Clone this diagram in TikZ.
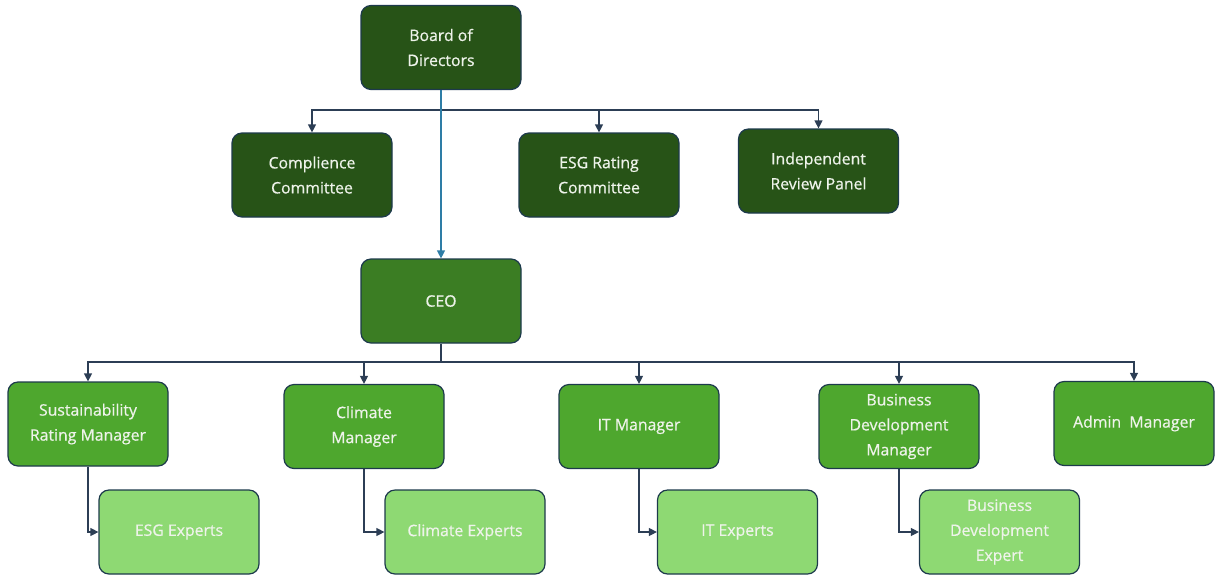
\documentclass[tikz,border=0pt]{standalone}
\usepackage{fontspec}
\setmainfont{Open Sans}
\newfontfamily\boxfont[FakeBold=0.6]{Open Sans}
\usepackage{tikz}
\usetikzlibrary{arrows.meta}

\definecolor{boardgreen}{HTML}{275317}
\definecolor{ceogreen}{HTML}{3B7D23}
\definecolor{mgrgreen}{HTML}{4EA72E}
\definecolor{expgreen}{HTML}{8ED973}
\definecolor{edgeblue}{HTML}{1D3A4C}
\definecolor{linkgray}{HTML}{2C3E55}
\definecolor{ceoblue}{HTML}{2E7DA6}
\definecolor{labelwhite}{HTML}{EEF3EA}

\begin{document}
\begin{tikzpicture}[x=1pt, y=-1pt,
    orgbox/.style={draw=edgeblue, line width=1.2pt, rounded corners=10pt,
        minimum width=160pt, minimum height=84pt, align=center,
        text=labelwhite, font=\boxfont\fontsize{15.8}{25}\selectfont},
    board/.style={orgbox, fill=boardgreen},
    ceo/.style={orgbox, fill=ceogreen},
    mgr/.style={orgbox, fill=mgrgreen},
    expert/.style={orgbox, fill=expgreen},
    link/.style={draw=linkgray, line width=1.2pt,
        -{Triangle[width=8pt,length=8pt]}},
    ]
			\useasboundingbox (0,0) rectangle (1217,579);

			% top level
			\node[board] (brd) at (441,47.5) {Board of\\Directors};
			\node[board] (comp) at (312,175) {Complience\\Committee};
			\node[board] (esgrc) at (599,175) {ESG Rating\\Committee};
			\node[board] (irp) at (818.5,171) {Independent\\Review Panel};
			\node[ceo] (ceo) at (441,301) {CEO};

			% managers
			\node[mgr] (srm) at (88,424) {Sustainability\\Rating Manager};
			\node[mgr] (clm) at (364,426.5) {Climate\\Manager};
			\node[mgr] (itm) at (639,426.5) {IT Manager};
			\node[mgr] (bdm) at (899,426.5) {Business\\Development\\Manager};
			\node[mgr] (adm) at (1134,423.5) {Admin~ Manager};

			% experts
			\node[expert] (esgx) at (179,532) {ESG Experts};
			\node[expert] (clmx) at (465,532) {Climate Experts};
			\node[expert] (itx) at (737.5,532) {IT Experts};
			\node[expert] (bdx) at (999.5,532) {Business\\Development\\Expert};

			\coordinate (bsplit) at (441,110);
			\coordinate (csplit) at (441,362);

			\draw[link] (brd.south) -- (bsplit) -| (comp.north);
			\draw[link] (bsplit) -| (esgrc.north);
			\draw[link] (bsplit) -| (irp.north);
			\draw[link, draw=ceoblue] (brd.south) -- (ceo.north);

			\draw[link] (ceo.south) -- (csplit) -| (srm.north);
			\draw[link] (csplit) -| (clm.north);
			\draw[link] (csplit) -| (itm.north);
			\draw[link] (csplit) -| (bdm.north);
			\draw[link] (csplit) -| (adm.north);

			\draw[link] (srm.south) |- (esgx.west);
			\draw[link] (clm.south) |- (clmx.west);
			\draw[link] (itm.south) |- (itx.west);
			\draw[link] (bdm.south) |- (bdx.west);

		\end{tikzpicture}
\end{document}
